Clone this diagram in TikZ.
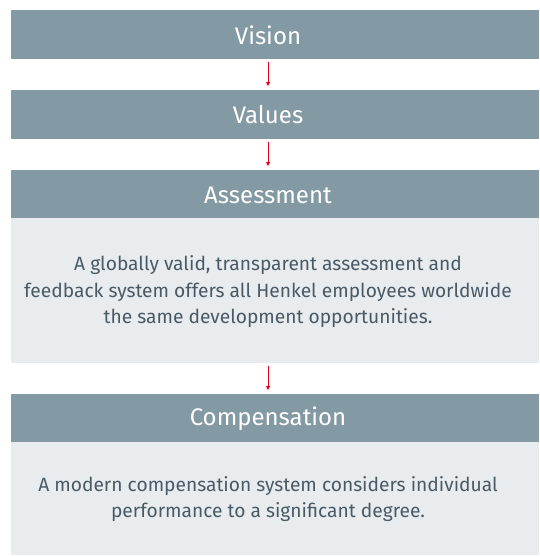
\documentclass[tikz,border=0pt]{standalone}
\usepackage{fontspec}
\setmainfont{Fira Sans}
\usetikzlibrary{arrows.meta}
\definecolor{hdr}{HTML}{8399A3}
\definecolor{lightbox}{HTML}{E9ECEF}
\definecolor{bodytxt}{HTML}{4A5A64}
\definecolor{arrowred}{HTML}{E2001A}
\tikzset{
  hdrbox/.style={fill=hdr, draw=none, rectangle, inner sep=0pt, minimum width=528pt, minimum height=48.5pt, anchor=north west},
  bodybox/.style={fill=lightbox, draw=none, rectangle, inner sep=0pt, minimum width=528pt, anchor=north west},
  hdrtext/.style={text=white, font=\fontsize{24}{28}\selectfont, inner sep=0pt},
  bodytext/.style={text=bodytxt, font=\fontsize{19.2}{26.5}\selectfont, align=center, inner sep=0pt},
  flowarrow/.style={draw=arrowred, line width=0.9pt, -{Triangle[length=4pt,width=4pt]}}
}
\begin{document}
\begin{tikzpicture}[x=1pt,y=-1pt]
\useasboundingbox (0,0) rectangle (539,557);
\node[hdrbox] (vision) at (11,10) {};
\node[hdrtext] (visiont) at (268,35) {Vision};
\node[hdrbox] (values) at (11,90) {};
\node[hdrtext] (valuest) at (268,115) {Values};
\node[hdrbox] (assess) at (11,170) {};
\node[hdrtext] (assesst) at (268,195) {Assessment};
\node[bodybox, minimum height=145pt] (assessb) at (11,218) {};
\node[bodytext] (assessbt) at (268,292) {A globally valid, transparent assessment and\\feedback system offers all Henkel employees worldwide\\the same development opportunities.};
\node[hdrbox] (comp) at (11,394) {};
\node[hdrtext] (compt) at (268,419) {Compensation};
\node[bodybox, minimum height=113pt] (compb) at (11,442) {};
\node[bodytext] (compbt) at (268,499) {A modern compensation system considers individual\\performance to a significant degree.};
\draw[flowarrow, shorten <=3pt, shorten >=4pt] (visiont |- vision.south) -- (valuest |- values.north);
\draw[flowarrow, shorten <=3pt, shorten >=4pt] (valuest |- values.south) -- (assesst |- assess.north);
\draw[flowarrow, shorten <=3pt, shorten >=4pt] (assessbt |- assessb.south) -- (compt |- comp.north);
\end{tikzpicture}
\end{document}
